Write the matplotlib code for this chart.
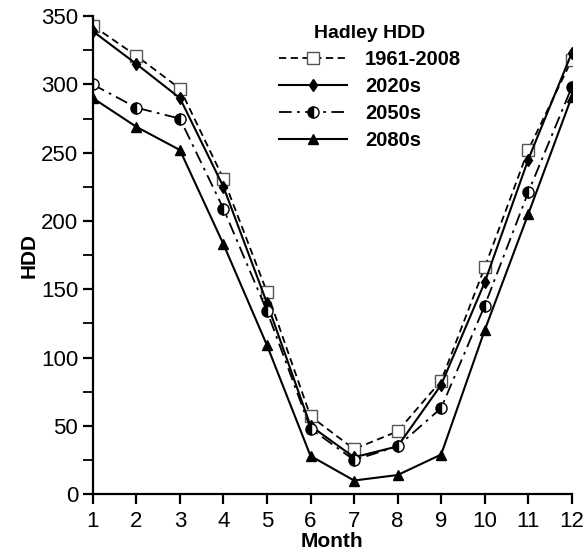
import numpy as np
import matplotlib.pyplot as plt

plt.rcParams['font.family'] = ['Liberation Sans', 'DejaVu Sans']
plt.rcParams['font.weight'] = 'bold'

months = [1, 2, 3, 4, 5, 6, 7, 8, 9, 10, 11, 12]
hdd_base = [343, 321, 297, 231, 148, 57, 33, 46, 83, 166, 252, 318]
hdd_2020s = [339, 315, 290, 225, 140, 50, 27, 35, 80, 155, 245, 323]
hdd_2050s = [300, 283, 275, 209, 134, 48, 25, 35, 63, 138, 221, 298]
hdd_2080s = [290, 269, 252, 183, 109, 28, 10, 14, 29, 120, 205, 291]

fig = plt.figure(figsize=(5.84, 5.59), dpi=100)
ax = fig.add_axes([0.159, 0.116, 0.820, 0.855])

ax.plot(months, hdd_base, color='black', lw=1.3, ls=(0, (4, 2.5)),
        marker='s', ms=8, mfc='white', mec='#555555', mew=1.0,
        label='1961-2008')
ax.plot(months, hdd_2020s, color='black', lw=1.5, ls='-',
        marker='d', ms=6, mfc='black', mec='black', label='2020s')
ax.plot(months, hdd_2050s, color='black', lw=1.3, ls=(0, (7, 3, 1.5, 3)),
        marker='o', ms=8, fillstyle='left', mfc='black',
        markerfacecoloralt='white', mec='black', mew=1.0, label='2050s')
ax.plot(months, hdd_2080s, color='black', lw=1.5, ls='-',
        marker='^', ms=7, mfc='black', mec='black', label='2080s')

ax.set_xlim(1, 12)
ax.set_ylim(0, 350)
ax.set_xticks(months)
ax.set_yticks(np.arange(0, 351, 50))
ax.set_yticks(np.arange(25, 350, 50), minor=True)
ax.spines['top'].set_visible(False)
ax.spines['right'].set_visible(False)
ax.spines['left'].set_linewidth(1.6)
ax.spines['bottom'].set_linewidth(1.6)
ax.tick_params(axis='both', which='major', direction='out', length=7,
               width=1.6, labelsize=16)
ax.tick_params(axis='x', which='major', pad=5)
ax.tick_params(axis='y', which='minor', direction='out', length=7,
               width=1.3)
for lab in ax.get_xticklabels() + ax.get_yticklabels():
    lab.set_fontweight('normal')

ax.set_xlabel('Month', fontsize=15, fontweight='bold', labelpad=0)
ax.set_ylabel('HDD', fontsize=15, fontweight='bold', labelpad=2)

leg = ax.legend(loc='upper left', bbox_to_anchor=(0.35, 1.02), frameon=False,
                title='Hadley HDD', fontsize=14.5, handlelength=3.4,
                handletextpad=0.9, labelspacing=0.4)
leg.get_title().set_fontweight('bold')
leg.get_title().set_fontsize(14)
for t in leg.get_texts():
    t.set_fontweight('bold')

fig.savefig('out.png', dpi=100)
